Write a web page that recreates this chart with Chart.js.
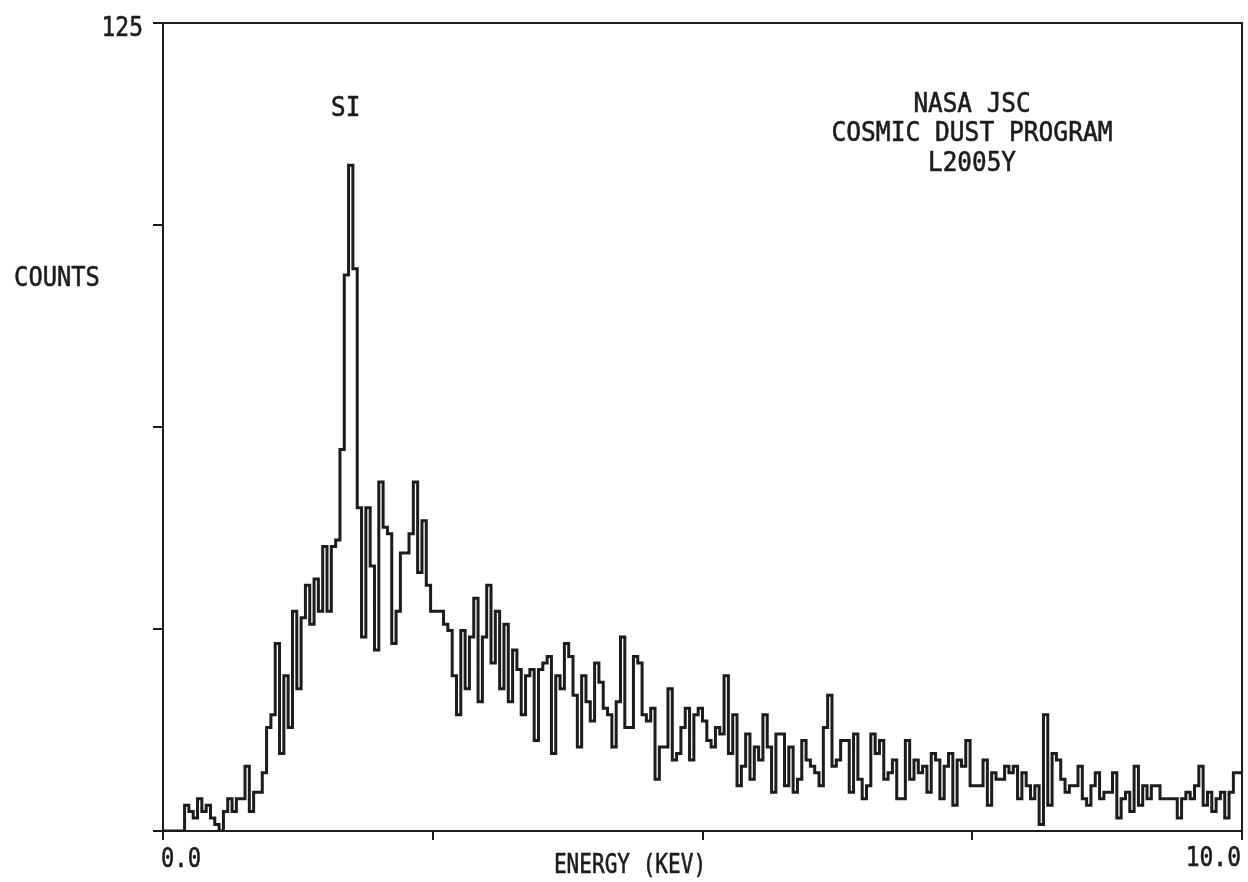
<!DOCTYPE html>
<html>
<head>
<meta charset="utf-8">
<script src="https://cdn.jsdelivr.net/npm/chart.js@4.4.1/dist/chart.umd.min.js"></script>
<style>
  html, body { margin: 0; padding: 0; background: #ffffff; }
  canvas { display: block; }
</style>
</head>
<body>
<canvas id="c" width="1248" height="882"></canvas>
<script>
// ---- Data (EDS spectrum, 0.04 keV channels starting at 0.00 keV) ----
const channelWidthKeV = 0.04;

const counts0to2keV = [
  0, 0, 0, 0, 0, 0, 4, 3, 2, 5,
  3, 4, 2, 1, 0, 3, 5, 3, 5, 5,
  10, 3, 6, 6, 9, 16, 18, 29, 12, 24,
  16, 34, 22, 33, 38, 32, 39, 34, 44, 34,
  44, 45, 59, 86, 103, 87, 50, 30, 50, 41
];
const counts2to4keV = [
  28, 54, 47, 46, 29, 34, 43, 43, 46, 54,
  40, 48, 38, 34, 34, 34, 32, 31, 24, 18,
  31, 22, 30, 36, 20, 30, 38, 26, 34, 22,
  32, 20, 28, 25, 18, 24, 25, 14, 25, 26,
  27, 12, 24, 22, 29, 27, 21, 13, 24, 20
];
const counts4to6keV = [
  17, 26, 23, 19, 18, 13, 20, 30, 16, 16,
  27, 26, 18, 17, 19, 8, 13, 13, 22, 11,
  12, 16, 19, 11, 18, 19, 17, 14, 13, 16,
  15, 24, 12, 18, 7, 10, 15, 8, 13, 11,
  18, 13, 6, 15, 15, 7, 13, 6, 8, 14
];
const counts6to8keV = [
  11, 10, 9, 7, 16, 21, 10, 11, 14, 14,
  6, 15, 8, 5, 7, 15, 12, 14, 8, 9,
  11, 5, 5, 14, 8, 11, 9, 10, 6, 12,
  11, 5, 10, 12, 4, 11, 10, 14, 7, 7,
  7, 11, 4, 9, 8, 8, 10, 9, 10, 5
];
const counts8to10keV = [
  9, 7, 5, 7, 1, 18, 4, 12, 11, 8,
  6, 7, 7, 10, 5, 4, 7, 9, 5, 6,
  6, 9, 2, 5, 6, 3, 10, 4, 7, 5,
  7, 7, 5, 5, 5, 5, 2, 5, 6, 5,
  7, 10, 4, 6, 3, 5, 6, 2, 6, 9
];

const xTickValues = [0, 2.5, 5, 7.5, 10];
const yTickValues = [0, 31.25, 62.5, 93.75, 125];
const xEdgeLabels = ['0.0', '10.0'];
const yTopLabel = '125';
const peakLabel = { text: 'SI', energy: 1.74 };
const infoLines = ['NASA JSC', 'COSMIC DUST PROGRAM', 'L2005Y'];
const xTitle = 'ENERGY (KEV)';
const yTitle = 'COUNTS';

// ---- Build step points ----
const allCounts = [].concat(counts0to2keV, counts2to4keV, counts4to6keV, counts6to8keV, counts8to10keV);
const points = allCounts.map((c, i) => ({ x: +(i * channelWidthKeV).toFixed(2), y: c }));
points.push({ x: 10, y: allCounts[allCounts.length - 1] });

const INK = '#1c1c1c';

function drawText(ctx, str, x, y, align, sx) {
  ctx.save();
  ctx.font = '27px "DejaVu Sans Mono", "Liberation Mono", monospace';
  ctx.fillStyle = INK;
  ctx.strokeStyle = INK;
  ctx.lineWidth = 0.6;
  ctx.textBaseline = 'middle';
  ctx.textAlign = align || 'center';
  ctx.translate(x, y);
  ctx.scale(sx || 0.9, 1);
  ctx.fillText(str, 0, 0);
  ctx.strokeText(str, 0, 0);
  ctx.restore();
}

const decorPlugin = {
  id: 'decor',
  afterDraw(chart) {
    const ctx = chart.ctx;
    const a = chart.chartArea;
    const xs = chart.scales.x;
    // top and right frame lines
    ctx.save();
    ctx.strokeStyle = INK;
    ctx.lineWidth = 2;
    ctx.beginPath();
    ctx.moveTo(a.left, a.top);
    ctx.lineTo(a.right, a.top);
    ctx.lineTo(a.right, a.bottom + 8);
    ctx.stroke();
    ctx.restore();

    // texts
    drawText(ctx, yTopLabel, 143, a.top + 6, 'right', 0.85);
    drawText(ctx, yTitle, 57, 279, 'center', 0.88);
    drawText(ctx, peakLabel.text, xs.getPixelForValue(peakLabel.energy) - 5, 109, 'center', 0.9);
    drawText(ctx, infoLines[0], 972, 105, 'center', 0.9);
    drawText(ctx, infoLines[1], 972, 134, 'center', 0.91);
    drawText(ctx, infoLines[2], 972, 164, 'center', 0.9);
    drawText(ctx, xEdgeLabels[0], 161, 860, 'left', 0.82);
    drawText(ctx, xEdgeLabels[1], 1241, 859, 'right', 0.85);
    drawText(ctx, xTitle, 630, 866, 'center', 0.78);
  }
};

new Chart(document.getElementById('c').getContext('2d'), {
  type: 'line',
  data: {
    datasets: [{
      data: points,
      stepped: 'after',
      borderColor: INK,
      borderWidth: 3,
      pointRadius: 0,
      fill: false,
      tension: 0
    }]
  },
  options: {
    responsive: false,
    animation: false,
    devicePixelRatio: 1,
    layout: { padding: { top: 23, right: 6, left: 0, bottom: 0 } },
    plugins: { legend: { display: false }, tooltip: { enabled: false }, title: { display: false } },
    scales: {
      x: {
        type: 'linear',
        min: 0,
        max: 10,
        afterBuildTicks: s => { s.ticks = xTickValues.map(v => ({ value: v })); },
        afterFit: s => { s.height = 51; },
        grid: { drawOnChartArea: false, drawTicks: true, tickLength: 9, color: INK, lineWidth: 2 },
        border: { display: true, color: INK, width: 2 },
        ticks: { callback: () => '', padding: 0 }
      },
      y: {
        type: 'linear',
        min: 0,
        max: 125,
        afterBuildTicks: s => { s.ticks = yTickValues.map(v => ({ value: v })); },
        afterFit: s => { s.width = 163; },
        grid: { drawOnChartArea: false, drawTicks: true, tickLength: 10, color: INK, lineWidth: 2 },
        border: { display: true, color: INK, width: 2 },
        ticks: { callback: () => '', padding: 0 }
      }
    }
  },
  plugins: [decorPlugin]
});
</script>
</body>
</html>
